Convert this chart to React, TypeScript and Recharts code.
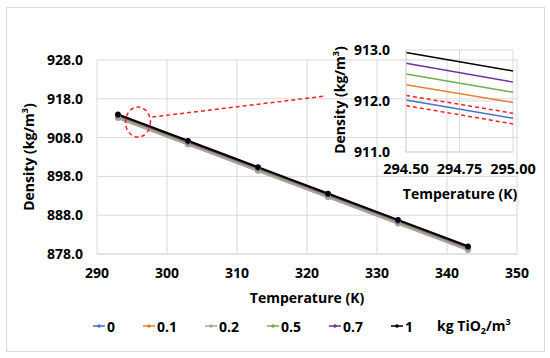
import React from 'react';
import { LineChart, Line, XAxis, YAxis, CartesianGrid, ReferenceLine, ReferenceDot } from 'recharts';

// main chart data
const temps = [293, 303, 313, 323, 333, 343];
const rho0 = [913.1, 906.3, 899.5, 892.7, 885.9, 879.1];
const rho01 = [913.4, 906.6, 899.8, 893.0, 886.2, 879.4];
const rho02 = [913.0, 906.2, 899.4, 892.6, 885.8, 879.0];
const rho05 = [913.6, 906.8, 900.0, 893.2, 886.4, 879.6];
const rho07 = [913.8, 907.0, 900.2, 893.4, 886.6, 879.8];
const rho1 = [914.0, 907.2, 900.4, 893.6, 886.8, 880.0];
const xTicks = [290, 300, 310, 320, 330, 340, 350];
const yTicks = [878, 888, 898, 908, 918, 928];

// zoomed inset data
const insetTemps = [294.5, 295.0];
const inset0 = [912.02, 911.66];
const inset01 = [912.32, 911.97];
const inset05 = [912.53, 912.17];
const inset07 = [912.74, 912.37];
const inset1 = [912.95, 912.59];
const insetUpper = [912.11, 911.76];
const insetLower = [911.91, 911.55];
const insetXTicks = [294.5, 294.75, 295.0];
const insetYTicks = [911, 912, 913];

const series = [
  { key: 'c0', name: '0', color: '#4472C4', values: rho0 },
  { key: 'c01', name: '0.1', color: '#ED7D31', values: rho01 },
  { key: 'c02', name: '0.2', color: '#A5A5A5', values: rho02 },
  { key: 'c05', name: '0.5', color: '#70AD47', values: rho05 },
  { key: 'c07', name: '0.7', color: '#7030A0', values: rho07 },
  { key: 'c1', name: '1', color: '#000000', values: rho1 },
];

const insetSeries = [
  { key: 'lo', color: '#FF2020', values: insetLower, dashed: true },
  { key: 'c0', color: '#4472C4', values: inset0 },
  { key: 'up', color: '#FF2020', values: insetUpper, dashed: true },
  { key: 'c01', color: '#ED7D31', values: inset01 },
  { key: 'c05', color: '#70AD47', values: inset05 },
  { key: 'c07', color: '#7030A0', values: inset07 },
  { key: 'c1', color: '#000000', values: inset1 },
];

const data = temps.map((t, i) => {
  const row: any = { t };
  series.forEach(s => { row[s.key] = s.values[i]; });
  return row;
});

const insetData = insetTemps.map((t, i) => {
  const row: any = { t };
  insetSeries.forEach(s => { row[s.key] = s.values[i]; });
  return row;
});

const font = '"Open Sans", sans-serif';
const tickStyle = { fill: '#000', fontSize: 14, fontWeight: 700, fontFamily: font };
const titleStyle: React.CSSProperties = {
  position: 'absolute', fontFamily: font, fontWeight: 700, fontSize: 14, color: '#000', whiteSpace: 'nowrap',
};

const Ellipse = (props: any) => (
  <ellipse cx={props.cx} cy={props.cy} rx={12.5} ry={15} fill="none" stroke="#FF2020" strokeWidth={1.5} strokeDasharray="4 3" />
);

const App = () => {
  return (
    <div style={{ position: 'absolute', left: 0, top: 0, width: 550, height: 358, background: '#fff', fontFamily: font }}>
      <div style={{ position: 'absolute', left: 6, top: 7, width: 537, height: 343, border: '1px solid #d9d9d9' }} />

      <div style={{ position: 'absolute', left: 0, top: 0 }}>
        <LineChart width={550} height={358} data={data} margin={{ top: 60, right: 33, bottom: 74, left: 40 }}>
          <CartesianGrid stroke="#d9d9d9" />
          <XAxis dataKey="t" type="number" domain={[290, 350]} ticks={xTicks} axisLine={{ stroke: '#d9d9d9' }}
            tickLine={false} tick={tickStyle} tickMargin={8} height={30} />
          <YAxis type="number" domain={[878, 928]} ticks={yTicks} axisLine={false} tickLine={false}
            tick={tickStyle} tickMargin={8} width={57} tickFormatter={(v: number) => v.toFixed(1)} />
          {series.map(s => (
            <Line key={s.key} dataKey={s.key} name={s.name} stroke={s.color} strokeWidth={2}
              dot={{ r: 1.8, fill: s.color, stroke: s.color }} isAnimationActive={false} />
          ))}
          <ReferenceLine segment={[{ x: 297.9, y: 913.3 }, { x: 322.6, y: 918.7 }]} stroke="#FF2020"
            strokeWidth={1.5} strokeDasharray="4 3" ifOverflow="visible" />
          <ReferenceDot x={295.85} y={912.0} shape={<Ellipse />} ifOverflow="visible" />
        </LineChart>
      </div>

      <div style={{ ...titleStyle, left: 28, top: 157, transform: 'translate(-50%, -50%) rotate(-90deg)' }}>
        Density (kg/m<sup style={{ fontSize: 9 }}>3</sup>)
      </div>
      <div style={{ ...titleStyle, left: 307, top: 297, transform: 'translate(-50%, -50%)' }}>Temperature (K)</div>

      <div style={{ position: 'absolute', left: 320, top: 30 }}>
        <LineChart width={230} height={180} data={insetData} margin={{ top: 20, right: 37, bottom: 28, left: 26 }}>
          <CartesianGrid stroke="#d9d9d9" />
          <XAxis dataKey="t" type="number" domain={[294.5, 295]} ticks={insetXTicks} axisLine={{ stroke: '#d9d9d9' }}
            tickLine={false} tick={{ ...tickStyle, fontSize: 14.5 }} tickMargin={6} height={30}
            tickFormatter={(v: number) => v.toFixed(2)} interval={0} />
          <YAxis type="number" domain={[911, 913]} ticks={insetYTicks} axisLine={{ stroke: '#d9d9d9' }} tickLine={false}
            tick={{ ...tickStyle, fontSize: 14 }} tickMargin={10} width={60} tickFormatter={(v: number) => v.toFixed(1)} />
          {insetSeries.map(s => (
            <Line key={s.key} dataKey={s.key} stroke={s.color} strokeWidth={1.5}
              strokeDasharray={s.dashed ? '4 3' : undefined} dot={false} isAnimationActive={false} />
          ))}
        </LineChart>
      </div>

      <div style={{ ...titleStyle, left: 339, top: 100, transform: 'translate(-50%, -50%) rotate(-90deg)' }}>
        Density (kg/m<sup style={{ fontSize: 9 }}>3</sup>)
      </div>
      <div style={{ ...titleStyle, left: 460, top: 193, transform: 'translate(-50%, -50%)' }}>Temperature (K)</div>

      <div style={{ position: 'absolute', left: 93, top: 316, height: 20, display: 'flex', alignItems: 'center', gap: 28,
        fontWeight: 700, fontSize: 14, whiteSpace: 'nowrap' }}>
        {series.map(s => (
          <div key={s.key} style={{ display: 'flex', alignItems: 'center', gap: 2 }}>
            <svg width={12} height={8}>
              <line x1={0} y1={4} x2={12} y2={4} stroke={s.color} strokeWidth={1.5} />
              <circle cx={6} cy={4} r={1.8} fill={s.color} />
            </svg>
            <span>{s.name}</span>
          </div>
        ))}
        <span style={{ marginLeft: -4 }}>kg TiO<sub style={{ fontSize: 9 }}>2</sub>/m<sup style={{ fontSize: 9 }}>3</sup></span>
      </div>
    </div>
  );
};

export default App;
